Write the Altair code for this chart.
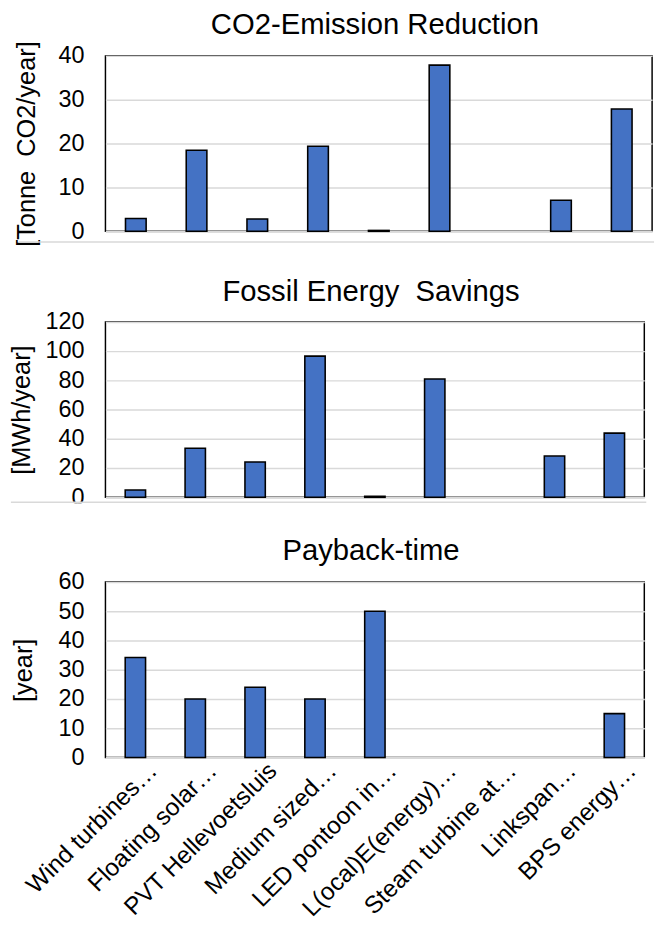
import altair as alt
import pandas as pd

categories = ["Wind turbines\u2026", "Floating solar\u2026", "PVT Hellevoetsluis",
              "Medium sized\u2026", "LED pontoon in\u2026", "L(ocal)E(energy)\u2026",
              "Steam turbine at\u2026", "Linkspan\u2026", "BPS energy\u2026"]
co2 = [2.9, 18.5, 2.8, 19.4, 0.2, 37.9, None, 7.1, 27.9]
fossil = [5.0, 33.6, 24.2, 96.6, 0.7, 80.9, None, 28.2, 43.9]
payback = [34.2, 20.0, 24.0, 20.0, 50.0, None, None, None, 15.0]

titles = ["CO2-Emission Reduction", "Fossil Energy\u00a0 Savings", "Payback-time"]
y_titles = ["[Tonne\u00a0 CO2/year]", "[MWh/year]", "[year]"]
y_max = [40, 120, 60]
y_step = [10, 20, 10]

FONT = "Liberation Sans"
GRID = "#d9d9d9"
BAR = "#4472C4"


def panel(values, title, ytitle, ymax, ystep, width, show_x, title_pad, title_off, extras):
    df = pd.DataFrame({"cat": categories, "val": values})
    if show_x:
        xaxis = alt.Axis(title=None, labelAngle=-45, labelAlign="right", labelBaseline="middle",
                         labelFont=FONT, labelFontSize=25, labelColor="#000", labelPadding=9,
                         labelOffset=18, ticks=False, domainColor=GRID, domainWidth=2,
                         labelLimit=400, zindex=0)
    else:
        xaxis = alt.Axis(title=None, labels=False, ticks=False, domainColor=GRID, domainWidth=2,
                         zindex=0)
    bars = alt.Chart(df).mark_bar(color=BAR, stroke="black", strokeWidth=1.6).encode(
        x=alt.X("cat:N", sort=categories, axis=xaxis,
                scale=alt.Scale(paddingInner=0.66, paddingOuter=0.33)),
        y=alt.Y("val:Q", scale=alt.Scale(domain=[0, ymax], nice=False),
                axis=alt.Axis(title=ytitle, titleFont=FONT, titleFontSize=26, titleFontWeight="normal",
                              titleColor="#000", titlePadding=title_pad,
                              values=list(range(0, ymax + 1, ystep)),
                              labelFont=FONT, labelFontSize=24, labelColor="#000", labelPadding=22,
                              ticks=False, domain=False, gridColor=GRID, gridWidth=1.5, zindex=0)),
    )
    layers = [bars]
    one = pd.DataFrame({"k": [0]})
    for kind, x1, x2, y1, y2, col, op in extras:
        if kind == "rule":
            layers.append(alt.Chart(one).mark_rule(color=col, strokeWidth=1.5, opacity=op).encode(
                x=alt.value(x1), x2=alt.value(x2), y=alt.value(y1)))
        else:
            layers.append(alt.Chart(one).mark_rect(color=col, opacity=op).encode(
                x=alt.value(x1), x2=alt.value(x2), y=alt.value(y1), y2=alt.value(y2)))
    return alt.layer(*layers).properties(
        width=width, height=180,
        title=alt.TitleParams(title, font=FONT, fontSize=30, fontWeight="normal", color="#000",
                              offset=title_off, dx=-4),
    )


p1 = panel(co2, titles[0], y_titles[0], y_max[0], y_step[0], 561, False, 19, 1,
           [("rule", -89, 563, 191, None, GRID, 1),
            ("rule", -89, 0, 203, None, "white", 0)])
p2 = panel(fossil, titles[1], y_titles[1], y_max[1], y_step[1], 553, False, 11, 3,
           [("rect", -97, -2, 186, 195, "white", 1),
            ("rule", -97, 555, 185, None, GRID, 1)])
p3 = panel(payback, titles[2], y_titles[2], y_max[2], y_step[2], 553, True, 22, 5,
           [("rule", -97, 0, 0, None, "white", 0)])

chart = alt.concat(p1, p2, p3, columns=1, align="none", spacing=23).properties(
    padding={"left": 0, "top": -11, "right": 0, "bottom": 0}
).configure_view(stroke="black", strokeWidth=1.5)

chart.save("out.html", embed_options={"renderer": "svg", "actions": False})
